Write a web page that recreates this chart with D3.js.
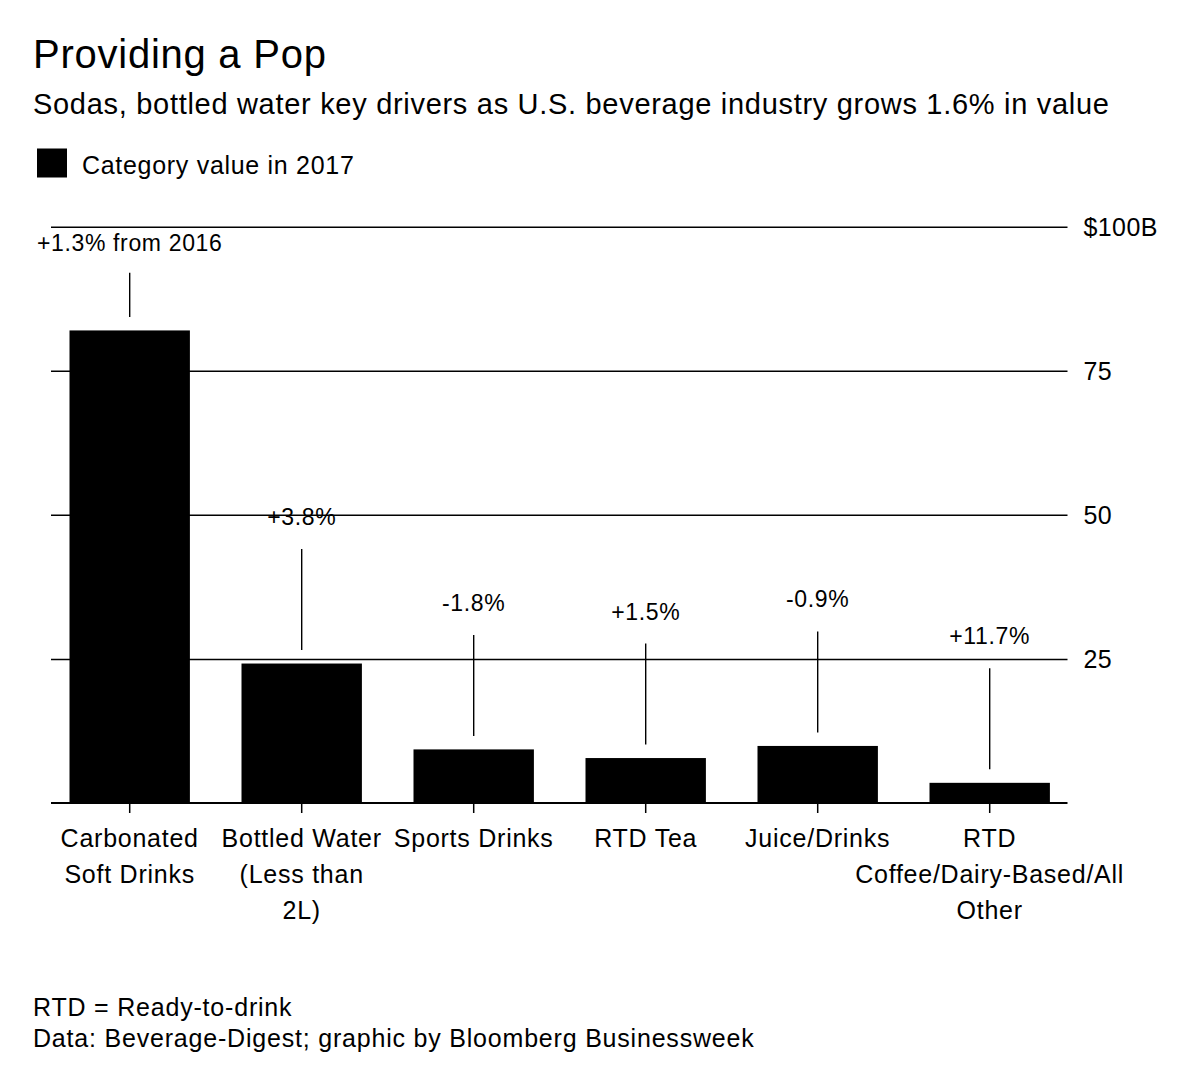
<!DOCTYPE html>
<html>
<head>
<meta charset="utf-8">
<script src="https://cdn.jsdelivr.net/npm/d3@7/dist/d3.min.js"></script>
<style>
  body { margin: 0; background: #fff; }
  svg { display: block; font-family: "Liberation Sans", Arial, Helvetica, sans-serif; }
  .gridline line { stroke: #000; stroke-width: 1.5; }
  .tick-label { font-size: 25px; letter-spacing: 0.4px; fill: #000; }
  .cat-label { font-size: 25px; letter-spacing: 0.75px; fill: #000; }
  .note { font-size: 23px; letter-spacing: 0.65px; fill: #000; }
  .leader { stroke: #000; stroke-width: 1.4; }
</style>
</head>
<body>
<script>
var categories = [
  "Carbonated Soft Drinks",
  "Bottled Water (Less than 2L)",
  "Sports Drinks",
  "RTD Tea",
  "Juice/Drinks",
  "RTD Coffee/Dairy-Based/All Other"
];
var categoryLines = [
  ["Carbonated", "Soft Drinks"],
  ["Bottled Water", "(Less than", "2L)"],
  ["Sports Drinks"],
  ["RTD Tea"],
  ["Juice/Drinks"],
  ["RTD", "Coffee/Dairy-Based/All", "Other"]
];
var values2017 = [82.0, 24.2, 9.3, 7.8, 9.9, 3.5];
var changeLabels = ["+1.3% from 2016", "+3.8%", "-1.8%", "+1.5%", "-0.9%", "+11.7%"];
var yTicks = [25, 50, 75, 100];
var yTickLabels = ["25", "50", "75", "$100B"];

var W = 1200, H = 1070;
var gridLeft = 51, gridRight = 1067.5;

var svg = d3.select("body").append("svg")
  .attr("width", W)
  .attr("height", H);

svg.append("rect").attr("width", W).attr("height", H).attr("fill", "#fff");

// headings
svg.append("text")
  .attr("x", 33).attr("y", 68)
  .style("font-size", "40px").style("letter-spacing", "0.75px")
  .text("Providing a Pop");

svg.append("text")
  .attr("x", 33).attr("y", 114)
  .style("font-size", "29px").style("letter-spacing", "0.7px")
  .text("Sodas, bottled water key drivers as U.S. beverage industry grows 1.6% in value");

// legend
svg.append("rect")
  .attr("x", 37).attr("y", 148.5)
  .attr("width", 30).attr("height", 29)
  .attr("fill", "#000");
svg.append("text")
  .attr("x", 82).attr("y", 174)
  .style("font-size", "25px").style("letter-spacing", "0.7px")
  .text("Category value in 2017");

// scales
var x = d3.scaleBand()
  .domain(categories)
  .range([43.7, 1075.7])
  .paddingInner(0.3)
  .paddingOuter(0.15);

var y = d3.scaleLinear()
  .domain([0, 100])
  .range([803, 226.7]);

// gridlines + right-hand labels
var yAxis = d3.axisRight(y)
  .tickValues(yTicks)
  .tickSize(-(gridRight - gridLeft))
  .tickPadding(16)
  .tickFormat(function (d, i) { return yTickLabels[i]; });

var gy = svg.append("g")
  .attr("class", "gridline")
  .attr("transform", "translate(" + gridRight + ",0)")
  .call(yAxis);
gy.select(".domain").remove();
gy.selectAll("text")
  .attr("class", "tick-label")
  .attr("font-family", null)
  .attr("font-size", null)
  .attr("fill", "#000")
  .attr("dy", "0.36em");

// bars
svg.append("g").selectAll("rect")
  .data(categories)
  .join("rect")
  .attr("x", function (d) { return x(d); })
  .attr("y", function (d, i) { return y(values2017[i]); })
  .attr("width", x.bandwidth())
  .attr("height", function (d, i) { return y(0) - y(values2017[i]); })
  .attr("fill", "#000");

// baseline
svg.append("line")
  .attr("x1", gridLeft).attr("x2", gridRight)
  .attr("y1", y(0)).attr("y2", y(0))
  .attr("stroke", "#000").attr("stroke-width", 2);

// bottom axis: ticks and wrapped category names
var xAxis = d3.axisBottom(x).tickSize(10).tickFormat("");
var gx = svg.append("g")
  .attr("transform", "translate(0," + y(0) + ")")
  .call(xAxis);
gx.select(".domain").remove();
gx.selectAll(".tick line").attr("stroke", "#000").attr("stroke-width", 1.5);

svg.append("g").selectAll("text")
  .data(categories)
  .join("text")
  .attr("class", "cat-label")
  .attr("text-anchor", "middle")
  .attr("x", function (d) { return x(d) + x.bandwidth() / 2; })
  .attr("y", 846.5)
  .each(function (d, i) {
    var t = d3.select(this);
    var cx = x(d) + x.bandwidth() / 2;
    categoryLines[i].forEach(function (line, k) {
      t.append("tspan")
        .attr("x", cx)
        .attr("dy", k === 0 ? 0 : 36)
        .text(line);
    });
  });

// change annotations with leader lines
var gap = 13.5, leaderLen = 101, labelGap = 24;
var topLabel = y(100) + 24;

categories.forEach(function (d, i) {
  var cx = x(d) + x.bandwidth() / 2;
  var lineBottom = y(values2017[i]) - gap;
  var lineTop = lineBottom - leaderLen;
  var labelY = lineTop - labelGap;
  if (labelY < topLabel) {
    labelY = topLabel;
    lineTop = labelY + 22;
  }
  svg.append("line")
    .attr("class", "leader")
    .attr("x1", cx).attr("x2", cx)
    .attr("y1", lineTop).attr("y2", lineBottom);
  svg.append("text")
    .attr("class", "note")
    .attr("text-anchor", "middle")
    .attr("x", cx)
    .attr("y", labelY)
    .text(changeLabels[i]);
});

// footer
svg.append("text")
  .attr("x", 33).attr("y", 1016)
  .style("font-size", "25px").style("letter-spacing", "0.8px")
  .text("RTD = Ready-to-drink");
svg.append("text")
  .attr("x", 33).attr("y", 1047)
  .style("font-size", "25px").style("letter-spacing", "0.8px")
  .text("Data: Beverage-Digest; graphic by Bloomberg Businessweek");
</script>
</body>
</html>
